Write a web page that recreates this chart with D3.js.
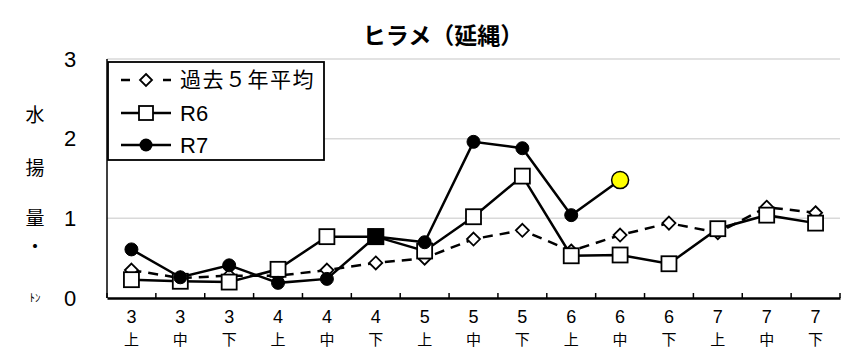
<!DOCTYPE html>
<html><head><meta charset="utf-8">
<script src="https://cdn.jsdelivr.net/npm/d3@7"></script>
<style>
body{margin:0;background:#fff;}
text{font-family:"Liberation Sans Narrow","Liberation Sans","Noto Sans CJK JP",sans-serif;}
.jp{font-family:"Noto Sans CJK JP",sans-serif;}
</style></head>
<body>
<svg id="c" width="857" height="352"></svg>
<script>
const months = ["3","3","3","4","4","4","5","5","5","6","6","6","7","7","7"];
const periods = ["上","中","下","上","中","下","上","中","下","上","中","下","上","中","下"];
const avg5 = [0.35,0.25,0.28,0.28,0.35,0.44,0.50,0.74,0.85,0.59,0.79,0.94,0.82,1.14,1.07];
const r6 = [0.23,0.21,0.20,0.36,0.77,0.77,0.59,1.02,1.53,0.53,0.54,0.43,0.87,1.04,0.94];
const r7 = [0.61,0.26,0.41,0.19,0.24,0.77,0.70,1.96,1.88,1.04,1.48];
const yTicks = [0,1,2,3];
const title = "ヒラメ（延縄）";
const yLabel = ["水","揚","量","・","ﾄﾝ"];
const legendNames = ["過去５年平均","R6","R7"];

const svg = d3.select("#c");
const m = {l:107, r:840, t:59, b:298};
const idx = d3.range(months.length);
const x = d3.scaleBand().domain(idx).range([m.l, m.r]).padding(0);
const y = d3.scaleLinear().domain([0,3]).range([m.b, m.t]);
const cx = i => x(i) + x.bandwidth()/2;

// gridlines
svg.append("g").selectAll("line").data(yTicks.filter(d=>d>0)).join("line")
  .attr("x1", m.l).attr("x2", m.r).attr("y1", d=>y(d)).attr("y2", d=>y(d))
  .attr("stroke", "#d9d9d9").attr("stroke-width", 1.5);

// y tick labels
svg.append("g").selectAll("text").data(yTicks).join("text")
  .attr("x", 70).attr("y", d=>y(d)).attr("dy","0.35em").attr("text-anchor","middle")
  .attr("font-size", 22).text(d=>d);

// y axis line
svg.append("line").attr("x1", m.l).attr("x2", m.l).attr("y1", y(0)).attr("y2", y(3))
  .attr("stroke","#000").attr("stroke-width",1.5);

// x axis
const xAxis = d3.axisBottom(x).tickValues([]).tickSize(0).tickSizeOuter(0);
const gx = svg.append("g").attr("transform",`translate(0,${m.b})`).call(xAxis);
gx.select(".domain").attr("stroke","#000").attr("stroke-width",2.5);
gx.selectAll(".bnd").data(d3.range(months.length+1)).join("line")
  .attr("x1", i => m.l + i*x.bandwidth()).attr("x2", i => m.l + i*x.bandwidth())
  .attr("y1", -5).attr("y2", 0).attr("stroke","#000").attr("stroke-width",1.5);
const xl = svg.append("g");
xl.selectAll(".m").data(idx).join("text").attr("x", cx).attr("y", 323)
  .attr("text-anchor","middle").attr("font-size", 18).text(i=>months[i]);
xl.selectAll(".p").data(idx).join("text").attr("class","jp").attr("x", cx).attr("y", 345)
  .attr("text-anchor","middle").attr("font-size", 15).text(i=>periods[i]);

// title
svg.append("text").attr("class","jp").attr("x", 443).attr("y", 44).attr("text-anchor","middle")
  .attr("font-size", 23).attr("font-weight","bold").text(title);

// y label
const ylPos = [115,168,218,247,298];
svg.append("g").selectAll("text").data(yLabel).join("text").attr("class","jp")
  .attr("x", 35).attr("y", (d,i)=>ylPos[i]).attr("dy","0.35em").attr("text-anchor","middle")
  .attr("font-size", (d,i)=> i===4 ? 11 : 19).text(d=>d);

const line = d3.line().x((d,i)=>cx(i)).y(d=>y(d));

// avg dashed
svg.append("path").attr("d", line(avg5)).attr("fill","none").attr("stroke","#000")
  .attr("stroke-width",2.5).attr("stroke-dasharray","10,7");
// R6
svg.append("path").attr("d", line(r6)).attr("fill","none").attr("stroke","#000").attr("stroke-width",2.5);
// R7
svg.append("path").attr("d", line(r7)).attr("fill","none").attr("stroke","#000").attr("stroke-width",2.5);

const diamond = (g, px, py, s) => g.append("path")
  .attr("d", `M${px},${py-s}L${px+s},${py}L${px},${py+s}L${px-s},${py}Z`)
  .attr("fill","#fff").attr("stroke","#000").attr("stroke-width",1.8);
const mk = svg.append("g");
avg5.forEach((v,i)=> diamond(mk, cx(i), y(v), 6.5));
r6.forEach((v,i)=> mk.append("rect").attr("x", cx(i)-7.5).attr("y", y(v)-7.5).attr("width",15).attr("height",15)
  .attr("fill","#fff").attr("stroke","#000").attr("stroke-width",1.8));
r7.forEach((v,i)=> {
  const last = i === r7.length-1;
  if (i === 5) {
    mk.append("rect").attr("x", cx(i)-7.5).attr("y", y(v)-7.5).attr("width",15).attr("height",15)
      .attr("fill","#000").attr("stroke","#000").attr("stroke-width",1.8);
  } else {
    mk.append("circle").attr("cx", cx(i)).attr("cy", y(v)).attr("r", last ? 8.5 : 6.5)
      .attr("fill", last ? "#ffff00" : "#000").attr("stroke","#000").attr("stroke-width", last ? 1.5 : 1);
  }
});

// legend
const lg = svg.append("g");
lg.append("rect").attr("x",108).attr("y",62).attr("width",216).attr("height",98)
  .attr("fill","#fff").attr("stroke","#000").attr("stroke-width",1.8);
const ly = [80,113,145];
lg.append("line").attr("x1",121).attr("x2",171).attr("y1",ly[0]).attr("y2",ly[0])
  .attr("stroke","#000").attr("stroke-width",2.5).attr("stroke-dasharray","9,12");
diamond(lg, 146, ly[0], 6);
lg.append("line").attr("x1",121).attr("x2",171).attr("y1",ly[1]).attr("y2",ly[1]).attr("stroke","#000").attr("stroke-width",2.5);
lg.append("rect").attr("x",139).attr("y",ly[1]-7).attr("width",14).attr("height",14).attr("fill","#fff").attr("stroke","#000").attr("stroke-width",1.8);
lg.append("line").attr("x1",121).attr("x2",171).attr("y1",ly[2]).attr("y2",ly[2]).attr("stroke","#000").attr("stroke-width",2.5);
lg.append("circle").attr("cx",146).attr("cy",ly[2]).attr("r",6.5).attr("fill","#000");
lg.selectAll(".lt").data(legendNames).join("text").attr("class",(d,i)=> i===0?"jp":null)
  .attr("x",180).attr("y",(d,i)=>ly[i]).attr("dy","0.35em").attr("font-size",(d,i)=> i===0 ? 21 : 22)
  .attr("letter-spacing",(d,i)=> i===0 ? 1.5 : 0).text(d=>d);
</script>
</body></html>
